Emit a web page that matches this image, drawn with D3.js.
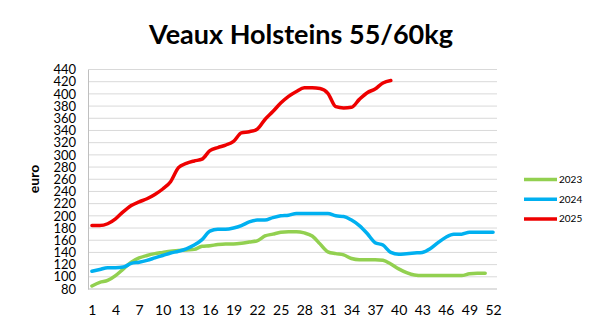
<!DOCTYPE html>
<html><head><meta charset="utf-8">
<script src="https://cdn.jsdelivr.net/npm/d3@7/dist/d3.min.js"></script>
<style>body{margin:0;background:#fff}svg{display:block}</style>
</head><body><svg id="c" width="600" height="333"></svg>
<script>
const title = "Veaux Holsteins 55/60kg";
const yLabel = "euro";
const weeks = d3.range(1, 53);
const xTickLabels = [1,4,7,10,13,16,19,22,25,28,31,34,37,40,43,46,49,52];
const yTicks = d3.range(80, 441, 20);
const seriesNames = ["2023", "2024", "2025"];
const seriesColors = ["#92d050", "#00b0f0", "#ee0000"];
const v2023 = [85,91,94,102,113,124,131,135,138,140,142,143,144,145,150,151,153,154,154,155,157,159,167,170,173,174,174,172,167,154,141,138,136,130,128,128,128,127,121,113,107,103,102,102,102,102,102,102,105,106,106];
const v2024 = [109,112,115,115,116,122,124,127,131,135,139,142,146,152,161,175,178,178,180,184,190,193,193,197,200,201,204,204,204,204,204,200,199,193,184,171,156,152,140,137,138,139,140,146,156,165,170,170,173,173,173,173];
const v2025 = [184,184,187,195,207,217,223,228,235,244,256,279,286,290,293,307,312,316,322,336,338,342,358,371,385,396,404,410,410,409,401,379,377,378,391,402,408,418,422];
const series = [v2023, v2024, v2025];

const svg = d3.select("#c");
const x = d3.scalePoint().domain(weeks).range([88, 497]).padding(0.5);
const y = d3.scaleLinear().domain([80, 440]).range([289, 69.5]);

svg.append("text").attr("x", 301).attr("y", 44).attr("text-anchor", "middle")
  .attr("font-family", "Lato, 'Open Sans', sans-serif").attr("font-weight", "bold")
  .attr("font-size", 27).attr("fill", "#000").text(title);

// gridlines
svg.append("g").selectAll("line").data(yTicks.filter(d => d > 80)).join("line")
  .attr("x1", 88).attr("x2", 497).attr("y1", d => y(d)).attr("y2", d => y(d))
  .attr("stroke", "#d9d9d9").attr("stroke-width", 1);

// y axis
const yAxis = svg.append("g").attr("transform", "translate(88,0)")
  .call(d3.axisLeft(y).tickValues(yTicks).tickSize(0).tickPadding(12));
yAxis.select(".domain").attr("stroke", "#bfbfbf");
yAxis.selectAll("text").attr("font-family", "Lato, sans-serif").attr("font-size", 13).attr("fill", "#000");

// x axis
const xAxis = svg.append("g").attr("transform", "translate(0,289)")
  .call(d3.axisBottom(x).tickValues(xTickLabels).tickSize(0).tickPadding(16));
xAxis.select(".domain").attr("stroke", "#bfbfbf").attr("d", "M88,0H497");
xAxis.selectAll("text").attr("font-family", "Lato, sans-serif").attr("font-size", 14).attr("fill", "#000");

svg.append("text").attr("transform", "translate(39,179) rotate(-90)").attr("text-anchor", "middle")
  .attr("font-family", "Lato, sans-serif").attr("font-weight", "bold").attr("font-size", 14)
  .text(yLabel);

const line = d3.line().x((d, i) => x(weeks[i])).y(d => y(d)).curve(d3.curveMonotoneX);
series.forEach((s, k) => {
  svg.append("path").datum(s).attr("d", line).attr("fill", "none")
    .attr("stroke", seriesColors[k]).attr("stroke-width", 3.5)
    .attr("stroke-linejoin", "round").attr("stroke-linecap", "round");
});

// legend
const lg = svg.append("g");
seriesNames.forEach((n, k) => {
  const yy = 179.5 + k * 19.7;
  lg.append("line").attr("x1", 524).attr("x2", 557).attr("y1", yy).attr("y2", yy)
    .attr("stroke", seriesColors[k]).attr("stroke-width", 3.5);
  lg.append("text").attr("x", 559).attr("y", yy + 3.5).attr("font-family", "Lato, sans-serif")
    .attr("font-size", 10).attr("fill", "#000").text(n);
});
</script></body></html>
